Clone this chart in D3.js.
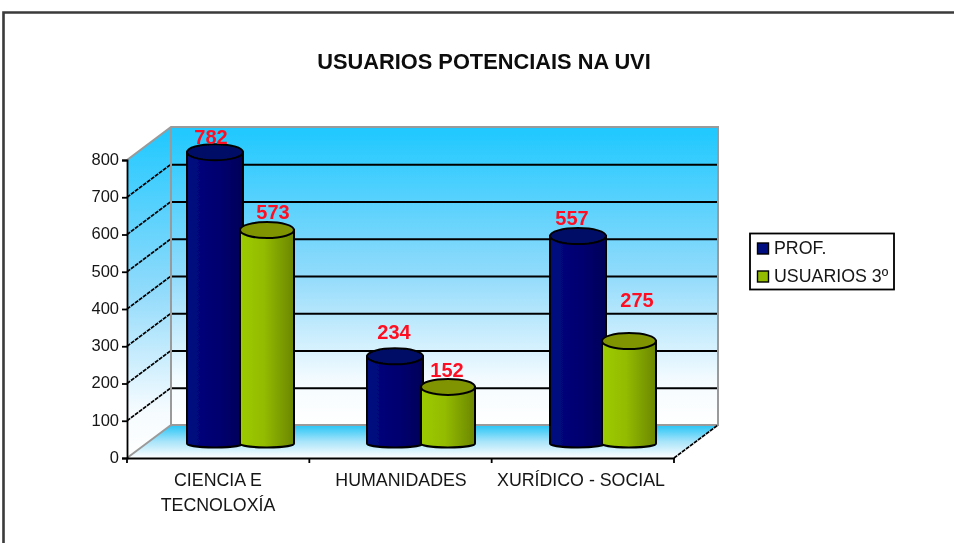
<!DOCTYPE html>
<html><head><meta charset="utf-8">
<script src="https://cdn.jsdelivr.net/npm/d3@7"></script>
<style>html,body{margin:0;padding:0;background:#fff}svg{display:block}text{font-family:"Liberation Sans",Arial,sans-serif}</style>
</head><body><svg id="c" width="954" height="543"></svg>
<script>
const categories = [["CIENCIA E","TECNOLOXÍA"],["HUMANIDADES"],["XURÍDICO - SOCIAL"]];
const seriesNames = ["PROF.","USUARIOS 3º"];
const prof = [782,234,557];
const usuarios = [573,152,275];
const yTicks = [0,100,200,300,400,500,600,700,800];
const colorsDark = ["#000a66","#7f9400"];

const root = d3.select("#c");
const defs = root.append("defs");
defs.append("filter").attr("id","soft").attr("x",0).attr("y",0).attr("width",1).attr("height",1)
  .append("feGaussianBlur").attr("stdDeviation",0.45);
const svg = root.append("g").attr("filter","url(#soft)");
svg.append("rect").attr("width",954).attr("height",543).attr("fill","#fff");
const dx=44, dy=-33;
const y = d3.scaleLinear().domain([0,800]).range([458,160]);
const x = d3.scaleBand().domain([0,1,2]).range([127,674]);

function grad(id,stops,x2,y2){
  const g=defs.append("linearGradient").attr("id",id).attr("x1",0).attr("y1",0).attr("x2",x2).attr("y2",y2);
  stops.forEach(s=>g.append("stop").attr("offset",s[0]).attr("stop-color",s[1]));
}
grad("wall",[[0,"#1ec8ff"],[0.5,"#92dbfb"],[0.85,"#f4fbff"],[1,"#ffffff"]],0,1);
grad("floor",[[0,"#25c4f6"],[0.5,"#a8e4fa"],[1,"#ffffff"]],0,1);
grad("blue",[[0,"#000a80"],[0.6,"#00006e"],[1,"#000058"]],1,0);
grad("green",[[0,"#9ccb00"],[0.45,"#93bb00"],[1,"#6b8600"]],1,0);

// frame
svg.append("path").attr("d","M3.5,543V12.5H954").attr("fill","none").attr("stroke","#3a3a3a").attr("stroke-width",2.6);

// title
svg.append("text").attr("x",484).attr("y",68.5).attr("text-anchor","middle")
  .attr("font-size",21.8).attr("font-weight","bold").attr("fill","#0a0a0a").text("USUARIOS POTENCIAIS NA UVI");

// walls
const x0=127,x1=674,y0=y(0),yTop=y(800);
svg.append("rect").attr("x",x0+dx).attr("y",yTop+dy).attr("width",x1-x0).attr("height",y0-yTop).attr("fill","url(#wall)");
svg.append("path").attr("d",`M${x0},${y0}L${x0+dx},${y0+dy}V${yTop+dy}L${x0},${yTop}Z`).attr("fill","url(#wall)");
svg.append("path").attr("d",`M${x0},${y0}L${x1},${y0}L${x1+dx},${y0+dy}H${x0+dx}Z`).attr("fill","url(#floor)");

// gridlines
yTicks.slice(1,-1).forEach(t=>{
  svg.append("line").attr("x1",x0+dx).attr("x2",x1+dx).attr("y1",y(t)+dy+0.5).attr("y2",y(t)+dy+0.5).attr("stroke","#000").attr("stroke-width",2);
  svg.append("line").attr("x1",x0).attr("x2",x0+dx).attr("y1",y(t)).attr("y2",y(t)+dy).attr("stroke","#000").attr("stroke-width",1.7).attr("stroke-dasharray","4 1");
});
// grey wall borders
svg.append("path").attr("d",`M${x0},${yTop}L${x0+dx},${yTop+dy}H${x1+dx}V${y0+dy}H${x0+dx}V${yTop+dy}M${x0+dx},${y0+dy}L${x0},${y0}`)
  .attr("fill","none").attr("stroke","#9a9a9a").attr("stroke-width",2);
svg.append("line").attr("x1",x1).attr("y1",y0).attr("x2",x1+dx).attr("y2",y0+dy).attr("stroke","#000").attr("stroke-width",1.7).attr("stroke-dasharray","4 1");

// axes
const axY=d3.axisLeft(y).tickValues(yTicks).tickSize(5).tickPadding(3);
const gy=svg.append("g").attr("transform",`translate(${x0},0)`).call(axY);
gy.selectAll("text").attr("font-size",16.5).attr("fill","#151515").attr("dy","0.26em").style("font-family",'"Liberation Sans",Arial,sans-serif');
const axX=d3.axisBottom(x).tickSize(0).tickFormat("");
const gx=svg.append("g").attr("transform",`translate(0,${y0})`).call(axX);
gx.selectAll(".tick").remove();
[0,1,2,3].forEach(i=>{
  const px=i<3?x(i):x1;
  gx.append("line").attr("x1",px).attr("x2",px).attr("y1",0).attr("y2",5);
});
gy.selectAll("path,line").attr("stroke","#000").attr("stroke-width",1.8);
gx.selectAll("path,line").attr("stroke","#000").attr("stroke-width",1.8);

// category labels
categories.forEach((c,i)=>{
  const t=svg.append("text").attr("text-anchor","middle").attr("font-size",17.8).attr("fill","#151515");
  const cx=[218,401,581][i];
  c.forEach((line,j)=>t.append("tspan").attr("x",cx).attr("y",485.5+j*25).text(line));
});

// bars
const bw=56, baseY=443.5, ry=8;
const barLeft=[[187,240],[367,421],[550,602]];
const labelX=[[211,273],[394,447],[572,637]];
const labelGap=[[8,11],[17,10],[11,34]];
const pxPerUnit=(y(0)-y(800))/800;
function drawBar(i,s,v){
  const l=barLeft[i][s], r=l+bw-(s?2:0), cx=(l+r)/2, rx=(r-l)/2;
  const top=baseY-v*pxPerUnit;
  const g=svg.append("g");
  g.append("path").attr("d",`M${l},${top}V${baseY}A${rx},4 0 0 0 ${r},${baseY}V${top}Z`)
    .attr("fill",s?"url(#green)":"url(#blue)").attr("stroke","#050505").attr("stroke-width",2);
  g.append("ellipse").attr("cx",cx).attr("cy",top).attr("rx",rx).attr("ry",ry)
    .attr("fill",colorsDark[s]).attr("stroke","#050505").attr("stroke-width",2);
  svg.append("text").attr("x",labelX[i][s]).attr("y",top-labelGap[i][s])
    .attr("text-anchor","middle").attr("font-size",20).attr("font-weight","bold").attr("fill","#ff1020").text(v);
}
prof.forEach((v,i)=>drawBar(i,0,v));
usuarios.forEach((v,i)=>drawBar(i,1,v));

// legend
svg.append("rect").attr("x",750).attr("y",233.5).attr("width",144).attr("height",56).attr("fill","#fff").attr("stroke","#000").attr("stroke-width",1.8);
seriesNames.forEach((n,i)=>{
  const ly=[248,276][i];
  svg.append("rect").attr("x",757.5).attr("y",ly-5).attr("width",11).attr("height",11).attr("fill",["#000a80","#93bb00"][i]).attr("stroke","#000").attr("stroke-width",1.4);
  svg.append("text").attr("x",774).attr("y",ly+6).attr("font-size",17.8).attr("fill","#151515").text(n);
});
</script></body></html>
